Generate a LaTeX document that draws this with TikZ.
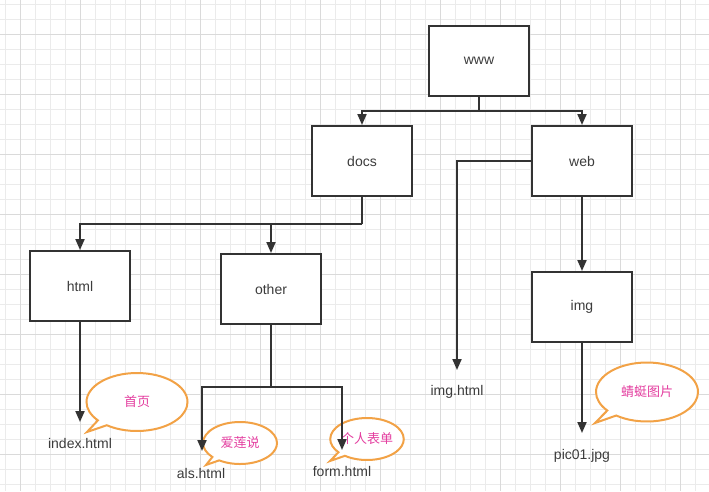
\documentclass[tikz,border=0pt]{standalone}
\usepackage{fontspec}
\setmainfont{Liberation Sans}
\newfontfamily\cjk{Noto Sans CJK SC}
\usetikzlibrary{arrows.meta,shapes.callouts,shapes.geometric}
\definecolor{ink}{HTML}{333333}
\definecolor{txt}{HTML}{3C3C3C}
\definecolor{orng}{HTML}{F2A246}
\definecolor{pinkt}{HTML}{E43FA0}
\definecolor{gminor}{HTML}{EBEBEB}
\definecolor{gmajor}{HTML}{DADADA}
\tikzset{
  box/.style={draw=ink, line width=2pt, fill=white, minimum width=100pt, minimum height=70pt, inner sep=0pt, text=txt, font=\fontsize{14}{16}\selectfont},
  file/.style={text=txt, inner sep=0pt, font=\fontsize{14}{16}\selectfont},
  conn/.style={draw=ink, line width=2pt, -{Triangle[length=11pt,width=9pt]}},
  plain/.style={draw=ink, line width=2pt},
  note/.style={ellipse callout, draw=orng, line width=2pt, fill=white, inner sep=0pt, text=pinkt, font=\cjk\fontsize{13}{15}\selectfont, callout pointer arc=14},
}
\begin{document}
\begin{tikzpicture}[x=1pt,y=-1pt]
\useasboundingbox (0,0) rectangle (709,491);
\fill[white] (0,0) rectangle (709,491);
% grid
\foreach \x in {5,20,...,709} \draw[gminor, line width=1pt] (\x,0) -- (\x,491);
\foreach \y in {4,19,...,491} \draw[gminor, line width=1pt] (0,\y) -- (709,\y);
\foreach \x in {20,80,...,709} \draw[gmajor, line width=1pt] (\x,0) -- (\x,491);
\foreach \y in {34,94,...,491} \draw[gmajor, line width=1pt] (0,\y) -- (709,\y);

% boxes
\node[box] (www) at (479,61) {www};
\node[box] (docs) at (362,161) {docs};
\node[box] (web) at (582,161) {web};
\node[box] (html) at (80,286) {html};
\node[box] (other) at (271,289) {other};
\node[box] (img) at (582,307) {img};

% callouts
\node[note, minimum width=101pt, minimum height=58pt, callout absolute pointer={(87,432)}] (n1) at (137,402) {首页};
\node[note, minimum width=74pt, minimum height=42pt, callout absolute pointer={(206,465)}] (n2) at (240,443) {爱莲说};
\node[note, minimum width=73pt, minimum height=42pt, callout absolute pointer={(330,461)}] (n3) at (367,439) {个人表单};
\node[note, minimum width=102pt, minimum height=59pt, callout absolute pointer={(595,423)}] (n4) at (647,392) {蜻蜓图片};

% file labels
\node[file] (index) at (80,443) {index.html};
\node[file] (als) at (201,473) {als.html};
\node[file] (form) at (342,471) {form.html};
\node[file] (imghtml) at (457,392) {img.html};
\node[file] (pic) at (582,456) {pic01.jpg};

% junction / end coordinates
\coordinate (wb) at (479,111);
\coordinate (db) at (362,224);
\coordinate (ob) at (271,387);
\coordinate (indexin) at (80,422);
\coordinate (alsin) at (202,451);
\coordinate (formin) at (342,450);
\coordinate (imghtmlin) at (457,370);
\coordinate (picin) at (582,433);

% connectors
\draw[plain] (www.south) -- (wb);
\draw[conn] (wb) -| (docs.north);
\draw[conn] (wb) -| (web.north);
\draw[plain] (docs.south) -- (db);
\draw[conn] (db) -| (html.north);
\draw[conn] (db) -| (other.north);
\draw[conn] (web.south) -- (img.north);
\draw[conn] (web.west) -| (imghtmlin);
\draw[conn] (html.south) -- (indexin);
\draw[plain] (other.south) -- (ob);
\draw[conn] (ob) -| (alsin);
\draw[conn] (ob) -| (formin);
\draw[conn] (img.south) -- (picin);
\end{tikzpicture}
\end{document}
